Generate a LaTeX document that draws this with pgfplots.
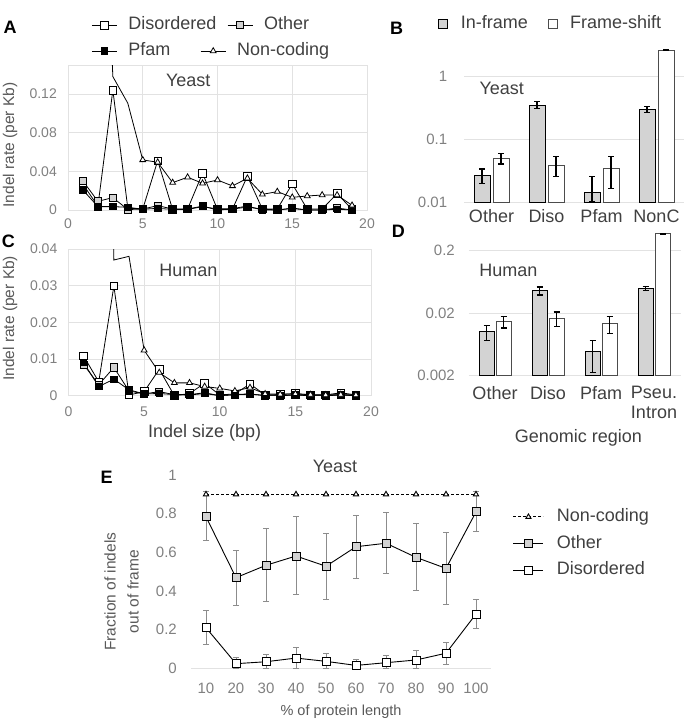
\documentclass[border=0pt]{standalone}
\usepackage{fontspec}
\setmainfont{Liberation Sans}
\usepackage{pgfplots}
\pgfplotsset{compat=1.18}
\usetikzlibrary{plotmarks}

\definecolor{tickgray}{HTML}{808080}
\definecolor{gridgray}{HTML}{E2E2E2}
\definecolor{fillgray}{HTML}{D3D3D3}
\definecolor{txt}{HTML}{404040}
\definecolor{labgray}{HTML}{595959}
\definecolor{errgray}{HTML}{8C8C8C}
\newcommand\fs[1]{\fontsize{#1pt}{#1pt}\selectfont}

\pgfplotsset{
  panel/.style={
    scale only axis, anchor=south west, scaled ticks=false,
    major tick length=0pt, minor tick length=0pt,
    /pgf/number format/assume math mode=true,
    tick label style={text=tickgray, inner sep=0pt},
    xticklabel style={anchor=north},
    yticklabel style={anchor=east},
  },
  leg/.style={
    legend style={draw=none, fill=none, inner sep=0pt, outer sep=0pt, anchor=west,
      font=\fs{18}, text=txt, nodes={inner sep=0pt, text height=13pt, text depth=4pt}},
    legend cell align=left,
  },
  lineA/.style={
    panel, xmin=0, xmax=20, xtick={0,5,10,15,20},
    grid=major, major grid style={gridgray, line width=0.8pt},
    axis line style={gridgray, line width=0.8pt},
    tick label style={font=\fs{14}},
    xticklabel style={yshift=-9pt}, yticklabel style={xshift=-11pt},
  },
  diso/.style={black, line width=0.8pt, mark=square*, mark size=3.8pt, mark options={fill=white}},
  othr/.style={black, line width=0.8pt, mark=square*, mark size=3.6pt, mark options={fill=fillgray}},
  pfam/.style={black, line width=0.8pt, mark=square*, mark size=3.2pt, mark options={fill=black}},
  nonc/.style={black, line width=0.8pt, mark=triangle*, mark size=3.4pt, mark options={fill=white}},
  errB/.style={forget plot, draw=none, error bars/.cd, y dir=both, y explicit,
    error bar style={draw=black, line width=1.2pt},
    error mark options={draw=black, rotate=90, mark size=3pt, line width=1.2pt}},
}

\begin{document}
\begin{tikzpicture}
\path[use as bounding box] (0pt,0pt) rectangle (698pt,-720pt);

% ---------------- A : yeast indel rate
\begin{axis}[lineA, leg, at={(68pt,-210pt)}, width=299pt, height=145pt,
  ymin=0, ymax=0.15, ytick={0,0.04,0.08,0.12}, yticklabels={0,0.04,0.08,0.12},
  legend image code/.code={\draw[mark repeat=2,mark phase=2,#1] plot coordinates {(0pt,0pt) (12.5pt,0pt) (25pt,0pt)};},
  legend columns=2,
  legend style={at={(0.0786,1.275)},
    /tikz/every odd column/.append style={column sep=11pt},
    /tikz/every even column/.append style={column sep=11pt}},
]
\addplot[diso] coordinates {(1,0.0266)(2,0.004)(3,0.124)(4,0.002)(5,0.001)(6,0.051)(7,0.0005)(8,0.001)(9,0.038)(10,0.0005)(11,0.001)(12,0.035)(13,0.001)(14,0.001)(15,0.027)(16,0.001)(17,0.001)(18,0.017)(19,0.0005)};
\addplot[othr] coordinates {(1,0.030)(2,0.009)(3,0.0128)(4,0.0005)(5,0.001)(6,0.0045)(7,0.001)(8,0.001)(9,0.004)(10,0)(11,0.001)(12,0.003)(13,0.001)(14,0)(15,0.002)(16,0)(17,0)(18,0.002)(19,0)};
\addplot[pfam] coordinates {(1,0.0207)(2,0.0035)(3,0.0035)(4,0.0028)(5,0.0008)(6,0.0017)(7,0.0006)(8,0.0006)(9,0.0035)(10,0.001)(11,0.0015)(12,0.004)(13,0)(14,0)(15,0.0015)(16,0)(17,0)(18,0.0008)(19,0)};
\addplot[nonc, mark phase=3] coordinates {(1,0.6)(2,0.5)(3,0.138)(4,0.1105)(5,0.0518)(6,0.0494)(7,0.0283)(8,0.0339)(9,0.0276)(10,0.031)(11,0.0249)(12,0.0328)(13,0.0162)(14,0.019)(15,0.0131)(16,0.0145)(17,0.0155)(18,0.0155)(19,0.0048)};
\legend{Disordered,Other}
\end{axis}
% second legend row of A
\begin{axis}[panel, leg, hide axis, at={(68pt,-210pt)}, width=299pt, height=145pt,
  xmin=0, xmax=1, ymin=0, ymax=1,
  legend image code/.code={\draw[mark repeat=2,mark phase=2,#1] plot coordinates {(0pt,0pt) (12.5pt,0pt) (25pt,0pt)};},
  legend columns=2,
  legend style={at={(0.0786,1.096)},
    /tikz/every odd column/.append style={column sep=11pt},
    /tikz/every even column/.append style={column sep=30pt}},
]
\addlegendimage{pfam}\addlegendentry{Pfam}
\addlegendimage{nonc}\addlegendentry{Non-coding}
\end{axis}

% ---------------- C : human indel rate
\begin{axis}[lineA, at={(68.5pt,-395.7pt)}, width=302.5pt, height=146.7pt,
  ymin=0, ymax=0.04, ytick={0,0.01,0.02,0.03,0.04}, yticklabels={0,0.01,0.02,0.03,0.04},
  xticklabel style={yshift=-2pt},
]
\addplot[diso] coordinates {(1,0.0108)(2,0.0038)(3,0.0299)(4,0.0002)(5,0.0011)(6,0.0072)(7,0)(8,0.0006)(9,0.0034)(10,0.0002)(11,0.0005)(12,0.0032)(13,0.0002)(14,0.0003)(15,0.0006)(16,0.0002)(17,0.0002)(18,0.0008)(19,0.0002)};
\addplot[othr] coordinates {(1,0.0085)(2,0.003)(3,0.0077)(4,0.0013)(5,0.0005)(6,0.0011)(7,0.0003)(8,0.0003)(9,0.0008)(10,0)(11,0.0003)(12,0.0005)(13,0)(14,0)(15,0.0002)(16,0)(17,0)(18,0.0002)(19,0)};
\addplot[pfam] coordinates {(1,0.009)(2,0.0025)(3,0.0045)(4,0.0016)(5,0.0005)(6,0.0006)(7,0.0003)(8,0.0002)(9,0.0006)(10,0)(11,0.0003)(12,0.0004)(13,0.0001)(14,0.0001)(15,0.0002)(16,0.0001)(17,0.0001)(18,0.0002)(19,0.0001)};
\addplot[nonc, mark phase=3] coordinates {(1,0.3)(2,0.3)(3,0.037)(4,0.038)(5,0.0124)(6,0.0063)(7,0.0035)(8,0.0035)(9,0.0025)(10,0.002)(11,0.0013)(12,0.0022)(13,0.0005)(14,0.0004)(15,0.0005)(16,0.0003)(17,0.0002)(18,0.0003)(19,0.0002)};
\end{axis}

% ---------------- B : yeast in-frame / frame-shift
\begin{axis}[panel, leg, at={(464pt,-202.7pt)}, width=220pt, height=156.9pt,
  ymode=log, log origin=infty,
  xmin=-0.5, xmax=3.5, xtick={0,1,2,3},
  ymin=0.01, ymax=3, ytick={0.01,0.1,1}, yticklabels={0.01,0.1,1},
  xticklabels={Other,Diso,Pfam,NonC},
  ymajorgrids, major grid style={gridgray, line width=0.8pt},
  axis line style={draw=none},
  xticklabel style={font=\fs{18}, text=txt, yshift=-6.8pt},
  yticklabel style={font=\fs{15}, xshift=-16.7pt},
  legend image code/.code={\draw[line width=0.8pt,#1] (0pt,-4.5pt) rectangle (9pt,4.5pt);},
  legend columns=2,
  legend style={at={(-0.116,1.14)},
    /tikz/every odd column/.append style={column sep=12.5pt},
    /tikz/every even column/.append style={column sep=20pt}},
]
\addplot[ybar, bar width=16pt, bar shift=-9.5pt, fill=fillgray, draw=black, line width=0.9pt]
  coordinates {(0,0.0273) (1,0.348) (2,0.0145) (3,0.298)};
\addplot[ybar, bar width=16pt, bar shift=9.5pt, fill=white, draw=black!70, line width=0.9pt]
  coordinates {(0,0.0494) (1,0.0393) (2,0.0352) (3,2.57)};
\legend{In-frame,Frame-shift}
% error bars, placed at the bar centres
\addplot[errB] coordinates {
  (-0.1727,0.0273) += (0,0.0067) -= (0,0.0071)
  (0.8273,0.348)   += (0,0.045)  -= (0,0.040)
  (1.8273,0.0145)  += (0,0.0118) -= (0,0.0041)
  (2.8273,0.298)   += (0,0.029)  -= (0,0.031)};
\addplot[errB] coordinates {
  (0.1727,0.0494) += (0,0.0099) -= (0,0.0087)
  (1.1727,0.0393) += (0,0.0137) -= (0,0.0136)
  (2.1727,0.0352) += (0,0.0178) -= (0,0.0184)
  (3.1727,2.57)   += (0,0.05)   -= (0,0.05)};
\end{axis}

% ---------------- D : human in-frame / frame-shift
\begin{axis}[panel, at={(468.5pt,-375.7pt)}, width=212pt, height=144.5pt,
  ymode=log, log origin=infty,
  xmin=-0.5, xmax=3.5, xtick={0,1,2,3},
  ymin=0.002, ymax=0.4, ytick={0.002,0.02,0.2}, yticklabels={0.002,0.02,0.2},
  xticklabels={Other,Diso,Pfam,{Pseu.\\Intron}},
  ymajorgrids, major grid style={gridgray, line width=0.8pt},
  axis line style={draw=none},
  xticklabel style={font=\fontsize{18pt}{20pt}\selectfont, text=txt, yshift=-10.3pt, align=center},
  yticklabel style={font=\fs{15}, xshift=-13.5pt},
]
\addplot[ybar, bar width=15pt, bar shift=-8.5pt, fill=fillgray, draw=black, line width=0.9pt]
  coordinates {(0,0.0102) (1,0.0458) (2,0.00484) (3,0.0493)};
\addplot[ybar, bar width=15pt, bar shift=8.5pt, fill=white, draw=black!70, line width=0.9pt]
  coordinates {(0,0.0144) (1,0.0166) (2,0.0135) (3,0.362)};
\addplot[errB] coordinates {
  (-0.1604,0.0102)  += (0,0.0025) -= (0,0.0029)
  (0.8396,0.0458)   += (0,0.0061) -= (0,0.0071)
  (1.8396,0.00484)  += (0,0.0025) -= (0,0.00258)
  (2.8396,0.0493)   += (0,0.0038) -= (0,0.0035)};
\addplot[errB] coordinates {
  (0.1604,0.0144) += (0,0.0033) -= (0,0.0029)
  (1.1604,0.0166) += (0,0.0041) -= (0,0.0044)
  (2.1604,0.0135) += (0,0.0042) -= (0,0.0042)
  (3.1604,0.362)  += (0,0.006)  -= (0,0.006)};
\end{axis}

% ---------------- E : fraction out of frame along the protein
\begin{axis}[panel, leg, at={(191pt,-668.3pt)}, width=300pt, height=193.3pt,
  xmin=5, xmax=105, ymin=0, ymax=1,
  xtick={10,20,...,100}, ytick={0,0.2,0.4,0.6,0.8,1}, yticklabels={0,0.2,0.4,0.6,0.8,1},
  axis line style={draw=none},
  extra y ticks={0}, extra y tick labels={},
  extra y tick style={ymajorgrids=true, major grid style={gridgray, line width=0.8pt}},
  tick label style={font=\fs{15}},
  xticklabel style={yshift=-14.6pt}, yticklabel style={xshift=-14pt},
  legend image code/.code={\draw[mark repeat=2,mark phase=2,#1] plot coordinates {(0pt,0pt) (15pt,0pt) (30pt,0pt)};},
  legend style={at={(1.0733,0.645)}, row sep=9.7pt,
    /tikz/every odd column/.append style={column sep=13pt}},
]
\addplot[black, line width=0.9pt, dash pattern=on 3pt off 2pt, mark=triangle*, mark size=3pt,
  mark options={fill=white, solid}] coordinates {
  (10,0.9)(20,0.9)(30,0.9)(40,0.9)(50,0.9)(60,0.9)(70,0.9)(80,0.9)(90,0.9)(100,0.9)};
\addplot[black, line width=0.9pt, mark=square*, mark size=4pt, mark options={fill=fillgray},
  error bars/.cd, y dir=both, y explicit,
  error bar style={errgray, line width=1pt},
  error mark options={errgray, rotate=90, mark size=3pt, line width=1pt}] coordinates {
  (10,0.784) += (0,0.129) -= (0,0.124)
  (20,0.469) += (0,0.143) -= (0,0.143)
  (30,0.533) += (0,0.189) -= (0,0.185)
  (40,0.581) += (0,0.203) -= (0,0.200)
  (50,0.528) += (0,0.170) -= (0,0.170)
  (60,0.629) += (0,0.161) -= (0,0.163)
  (70,0.647) += (0,0.160) -= (0,0.156)
  (80,0.574) += (0,0.174) -= (0,0.173)
  (90,0.517) += (0,0.188) -= (0,0.186)
  (100,0.809) += (0,0.104) -= (0,0.102)};
\addplot[black, line width=0.9pt, mark=square*, mark size=4pt, mark options={fill=white},
  error bars/.cd, y dir=both, y explicit,
  error bar style={errgray, line width=1pt},
  error mark options={errgray, rotate=90, mark size=3pt, line width=1pt}] coordinates {
  (10,0.21)  += (0,0.088) -= (0,0.089)
  (20,0.024) += (0,0.033) -= (0,0.024)
  (30,0.034) += (0,0.036) -= (0,0.034)
  (40,0.053) += (0,0.057) -= (0,0.053)
  (50,0.036) += (0,0.042) -= (0,0.036)
  (60,0.015) += (0,0.033) -= (0,0.015)
  (70,0.029) += (0,0.036) -= (0,0.029)
  (80,0.043) += (0,0.047) -= (0,0.043)
  (90,0.078) += (0,0.056) -= (0,0.057)
  (100,0.281) += (0,0.074) -= (0,0.076)};
\legend{Non-coding,Other,Disordered}
\end{axis}

% ---------------- labels and panel letters
\begin{scope}[every node/.style={inner sep=0pt}]
\node[font=\fs{18}\bfseries] at (10pt,-27pt) {A};
\node[font=\fs{18}\bfseries] at (396.7pt,-28.3pt) {B};
\node[font=\fs{18}\bfseries] at (8.3pt,-241.7pt) {C};
\node[font=\fs{18}\bfseries] at (398.3pt,-231.7pt) {D};
\node[font=\fs{18}\bfseries] at (106.7pt,-477.3pt) {E};
\node[font=\fs{18}, text=txt] at (188.3pt,-80.7pt) {Yeast};
\node[font=\fs{18}, text=txt] at (188.3pt,-270pt) {Human};
\node[font=\fs{18}, text=txt] at (501.7pt,-88.3pt) {Yeast};
\node[font=\fs{18}, text=txt] at (508.3pt,-270pt) {Human};
\node[font=\fs{18}, text=txt] at (335pt,-466pt) {Yeast};
\node[font=\fs{15.5}, text=labgray, rotate=90] at (10pt,-145pt) {Indel rate (per Kb)};
\node[font=\fs{15.5}, text=labgray, rotate=90] at (10pt,-318.3pt) {Indel rate (per Kb)};
\node[font=\fs{18}, text=txt] at (204.7pt,-432.7pt) {Indel size (bp)};
\node[font=\fs{18}, text=txt] at (578.3pt,-438.3pt) {Genomic region};
\node[font=\fontsize{15.5pt}{23pt}\selectfont, text=labgray, rotate=90, align=center] at (121.7pt,-591.7pt) {Fraction of indels\\out of frame};
\node[font=\fs{14.5}, text=labgray] at (341pt,-711.7pt) {\% of protein length};
\end{scope}
\end{tikzpicture}
\end{document}
